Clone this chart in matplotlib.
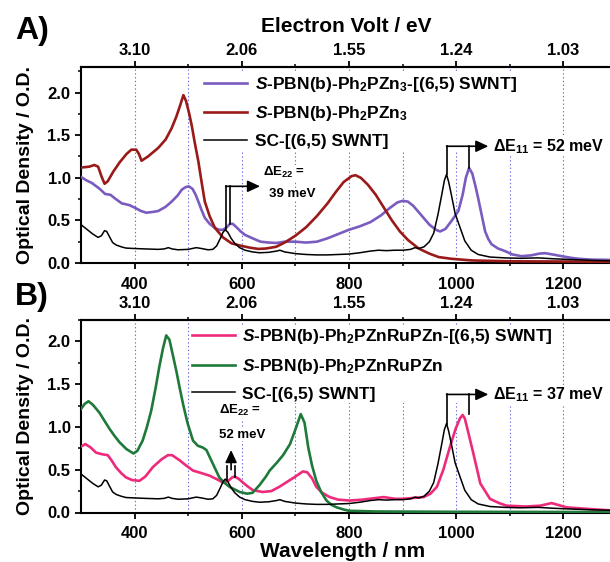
import matplotlib
matplotlib.use('Agg')
import matplotlib.pyplot as plt
from matplotlib.ticker import FixedLocator, MultipleLocator

plt.rcParams['font.family'] = ['Liberation Sans', 'DejaVu Sans']
plt.rcParams['font.weight'] = 'bold'
plt.rcParams['mathtext.fontset'] = 'custom'
plt.rcParams['mathtext.rm'] = 'Liberation Sans:bold'
plt.rcParams['mathtext.it'] = 'Liberation Sans:bold:italic'
plt.rcParams['mathtext.bf'] = 'Liberation Sans:bold'
plt.rcParams['axes.linewidth'] = 1.5

# ---------------- data ----------------
# Panel A: S-PBN(b)-Ph2PZn3-[(6,5) SWNT]
a_purple_wl = [300, 310, 320, 335, 345, 355, 365, 376, 390, 400, 412, 422, 435, 444, 458, 469, 480, 488,
               495, 501, 508, 514, 519, 525, 531, 540, 550, 558, 565, 572, 578, 583, 590, 598, 606, 620,
               635, 650, 665, 680, 700, 720, 740, 760, 780, 800, 820, 840, 860, 875, 890, 900, 910, 920,
               935, 950, 962, 970, 980, 992, 1004, 1012, 1018, 1024, 1030, 1036, 1041, 1048, 1054, 1060,
               1066, 1078, 1091, 1105, 1122, 1140, 1155, 1166, 1180, 1197, 1215, 1228, 1250, 1300]
a_purple_od = [1.01, 0.97, 0.94, 0.87, 0.81, 0.80, 0.75, 0.70, 0.68, 0.65, 0.61, 0.59, 0.60, 0.61, 0.66,
               0.72, 0.79, 0.86, 0.89, 0.90, 0.87, 0.80, 0.72, 0.62, 0.53, 0.46, 0.41, 0.39, 0.39, 0.42,
               0.46, 0.46, 0.42, 0.37, 0.33, 0.29, 0.25, 0.24, 0.235, 0.25, 0.25, 0.24, 0.25, 0.29, 0.34,
               0.39, 0.43, 0.48, 0.56, 0.64, 0.71, 0.73, 0.72, 0.67, 0.56, 0.45, 0.39, 0.37, 0.40, 0.50,
               0.61, 0.80, 1.00, 1.115, 1.05, 0.90, 0.76, 0.55, 0.37, 0.28, 0.22, 0.17, 0.14, 0.10, 0.08,
               0.09, 0.11, 0.115, 0.10, 0.08, 0.06, 0.05, 0.04, 0.035]

# Panel A: S-PBN(b)-Ph2PZn3
a_red_wl = [300, 315, 325, 332, 338, 344, 350, 360, 372, 385, 394, 403, 408, 413, 425, 444, 458, 469, 478,
            485, 491, 496, 502, 507, 512, 519, 525, 531, 540, 550, 565, 581, 600, 615, 631, 645, 664, 680,
            700, 720, 740, 760, 775, 790, 805, 812, 822, 835, 850, 865, 880, 895, 910, 930, 950, 967, 990,
            1029, 1100, 1300]
a_red_od = [1.12, 1.13, 1.15, 1.13, 1.02, 0.93, 0.96, 1.07, 1.18, 1.28, 1.33, 1.33, 1.28, 1.20, 1.25, 1.35,
            1.45, 1.58, 1.72, 1.85, 1.97, 1.90, 1.75, 1.60, 1.42, 1.19, 0.95, 0.72, 0.55, 0.41, 0.30, 0.23,
            0.20, 0.18, 0.165, 0.17, 0.19, 0.24, 0.32, 0.42, 0.55, 0.70, 0.83, 0.95, 1.02, 1.03, 1.00, 0.92,
            0.80, 0.65, 0.50, 0.37, 0.27, 0.17, 0.11, 0.07, 0.05, 0.03, 0.02, 0.015]

# SC-[(6,5) SWNT] (both panels)
swnt_wl = [300, 308, 314, 322, 332, 338, 344, 348, 353, 359, 366, 375, 384, 400, 420, 444, 455, 463, 470,
           481, 500, 515, 525, 537, 546, 553, 560, 565, 569, 574, 580, 587, 596, 606, 620, 633, 650, 665,
           671, 680, 700, 720, 739, 760, 780, 800, 820, 840, 855, 870, 885, 901, 915, 923, 930, 940, 950,
           958, 966, 973, 978, 982, 986, 991, 998, 1007, 1016, 1028, 1041, 1063, 1091, 1120, 1153, 1180,
           1216, 1260, 1300]
swnt_od = [0.45, 0.41, 0.38, 0.34, 0.30, 0.32, 0.38, 0.37, 0.31, 0.24, 0.21, 0.19, 0.175, 0.17, 0.165,
           0.16, 0.165, 0.18, 0.165, 0.155, 0.16, 0.18, 0.17, 0.155, 0.16, 0.20, 0.29, 0.36, 0.39, 0.36,
           0.29, 0.23, 0.18, 0.15, 0.13, 0.12, 0.125, 0.14, 0.15, 0.13, 0.11, 0.10, 0.095, 0.095, 0.10,
           0.105, 0.12, 0.14, 0.15, 0.145, 0.15, 0.15, 0.16, 0.18, 0.17, 0.19, 0.25, 0.35, 0.57, 0.80,
           0.97, 1.04, 0.95, 0.80, 0.58, 0.42, 0.26, 0.15, 0.10, 0.07, 0.06, 0.055, 0.06, 0.05, 0.04,
           0.03, 0.025]

# Panel B: S-PBN(b)-Ph2PZnRuPZn-[(6,5) SWNT]
b_pink_wl = [300, 308, 318, 328, 340, 350, 358, 365, 375, 384, 395, 409, 420, 434, 450, 462, 470, 484, 496,
             509, 525, 540, 553, 565, 575, 582, 587, 595, 602, 612, 621, 639, 655, 670, 685, 700, 714, 722,
             731, 739, 750, 764, 780, 801, 825, 851, 865, 886, 901, 920, 939, 952, 964, 976, 988, 999, 1007,
             1012, 1016, 1022, 1032, 1045, 1063, 1080, 1094, 1130, 1157, 1178, 1206, 1250, 1300]
b_pink_od = [0.77, 0.80, 0.76, 0.70, 0.68, 0.67, 0.60, 0.53, 0.46, 0.41, 0.38, 0.37, 0.42, 0.53, 0.62, 0.67,
             0.67, 0.61, 0.55, 0.49, 0.46, 0.43, 0.39, 0.35, 0.37, 0.41, 0.42, 0.39, 0.35, 0.30, 0.26, 0.24,
             0.25, 0.30, 0.36, 0.42, 0.48, 0.47, 0.40, 0.30, 0.23, 0.18, 0.15, 0.14, 0.15, 0.17, 0.18, 0.16,
             0.16, 0.17, 0.18, 0.22, 0.30, 0.50, 0.76, 0.98, 1.10, 1.14, 1.10, 0.95, 0.69, 0.34, 0.16, 0.11,
             0.08, 0.07, 0.08, 0.11, 0.06, 0.04, 0.02]

# Panel B: S-PBN(b)-Ph2PZnRuPZn
b_green_wl = [300, 307, 314, 322, 334, 343, 353, 362, 372, 385, 398, 405, 415, 423, 431, 439, 446, 453, 459,
              465, 471, 478, 484, 491, 499, 509, 518, 527, 534, 540, 549, 558, 567, 577, 596, 610, 620, 633,
              645, 652, 665, 677, 690, 700, 710, 717, 724, 731, 739, 748, 758, 767, 777, 790, 800, 850, 1000,
              1300]
b_green_od = [1.21, 1.27, 1.30, 1.26, 1.17, 1.08, 0.98, 0.90, 0.82, 0.74, 0.69, 0.72, 0.84, 1.00, 1.19, 1.45,
              1.70, 1.92, 2.07, 2.02, 1.85, 1.65, 1.46, 1.25, 1.04, 0.84, 0.78, 0.76, 0.73, 0.65, 0.53, 0.41,
              0.35, 0.30, 0.24, 0.22, 0.23, 0.32, 0.42, 0.49, 0.58, 0.67, 0.80, 0.97, 1.15, 1.05, 0.76, 0.55,
              0.37, 0.24, 0.14, 0.09, 0.06, 0.035, 0.02, 0.012, 0.008, 0.005]

# axis ticks / labels
wl_ticks = [400, 600, 800, 1000, 1200]
wl_minor = [500, 700, 900, 1100]
ev_labels = ['3.10', '2.06', '1.55', '1.24', '1.03']
grid_wl = [400, 500, 600, 700, 800, 900, 1000, 1100, 1200]
od_ticks = [0.0, 0.5, 1.0, 1.5, 2.0]

# legend labels
a_labels = [r'$\mathit{S}$-PBN(b)-Ph$_2$PZn$_3$-[(6,5) SWNT]',
            r'$\mathit{S}$-PBN(b)-Ph$_2$PZn$_3$',
            'SC-[(6,5) SWNT]']
b_labels = [r'$\mathit{S}$-PBN(b)-Ph$_2$PZnRuPZn-[(6,5) SWNT]',
            r'$\mathit{S}$-PBN(b)-Ph$_2$PZnRuPZn',
            'SC-[(6,5) SWNT]']

# annotation anchors (wavelength, O.D.)
a_e22_lines = [(570, 0.40), (578, 0.46)]
a_e22_top = 0.90
a_e22_tip = 634
a_e11_lines = [(982, 1.04), (1024, 1.115)]
a_e11_top = 1.37
a_e11_tip = 1060
b_e22_lines = [(572, 0.385), (588, 0.42)]
b_e22_top = 0.54
b_e22_arrow = (580, 0.50, 0.73)
b_e11_lines = [(982, 1.04), (1024, 1.15)]
b_e11_top = 1.38
b_e11_tip = 1060

C_PURPLE = '#7A5CC0'
C_RED = '#9A1A1A'
C_BLACK = '#000000'
C_PINK = '#EE2A7B'
C_GREEN = '#1F7A3A'
C_GRID = '#6A6AE0'

FIG_W, FIG_H = 610, 562
fig = plt.figure(figsize=(FIG_W / 100, FIG_H / 100), dpi=100)


def px_axes(left, top, right, bottom):
    return [left / FIG_W, 1 - bottom / FIG_H, (right - left) / FIG_W, (bottom - top) / FIG_H]


axA = fig.add_axes(px_axes(81, 67, 617, 263))
axB = fig.add_axes(px_axes(81, 320, 617, 512.5))


def style(ax, ytop):
    ax.set_xlim(300, 1300)
    ax.set_ylim(0, ytop)
    ax.vlines(grid_wl, 0, ytop, colors=C_GRID, linestyles=(0, (1.2, 2.2)), lw=0.8, zorder=0.5)
    ax.set_xticks(wl_ticks)
    ax.xaxis.set_minor_locator(FixedLocator(wl_minor))
    ax.set_yticks(od_ticks)
    ax.set_yticklabels([f'{v:.1f}' for v in od_ticks])
    ax.yaxis.set_minor_locator(MultipleLocator(0.25))
    ax.tick_params(which='major', direction='out', length=4.5, width=1.3, labelsize=12, pad=3)
    ax.tick_params(axis='x', which='major', pad=5.5)
    ax.tick_params(which='minor', direction='out', length=2.5, width=1.1)
    ax.tick_params(right=False, top=False, which='both')
    ax.spines['right'].set_visible(False)
    sec = ax.secondary_xaxis('top')
    sec.set_xticks(wl_ticks, labels=ev_labels)
    sec.xaxis.set_minor_locator(FixedLocator(wl_minor))
    sec.tick_params(which='major', direction='out', length=4.5, width=1.3, labelsize=12, pad=2)
    sec.tick_params(which='minor', direction='out', length=2.5, width=1.1)
    sec.spines['top'].set_linewidth(1.5)
    ax.set_ylabel('Optical Density / O.D.', fontsize=14, fontweight='bold')
    ax.yaxis.set_label_coords(-0.088, 0.5)


style(axA, 2.30)
style(axB, 2.25)

# ---- panel A curves ----
lA1, = axA.plot(a_purple_wl, a_purple_od, color=C_PURPLE, lw=1.9, zorder=3)
lA2, = axA.plot(a_red_wl, a_red_od, color=C_RED, lw=1.9, zorder=3)
lA3, = axA.plot(swnt_wl, swnt_od, color=C_BLACK, lw=1.1, zorder=4)

# ---- panel B curves ----
lB1, = axB.plot(b_pink_wl, b_pink_od, color=C_PINK, lw=1.9, zorder=3)
lB2, = axB.plot(b_green_wl, b_green_od, color=C_GREEN, lw=1.9, zorder=3)
lB3, = axB.plot(swnt_wl, swnt_od, color=C_BLACK, lw=1.1, zorder=4)


def make_legend(ax, handles, labels, anchor):
    leg = ax.legend(handles, labels, loc='upper left', bbox_to_anchor=anchor,
                    bbox_transform=ax.transData, frameon=True, facecolor='white',
                    edgecolor='none', framealpha=1, borderpad=0.1, borderaxespad=0,
                    handlelength=2.5, handletextpad=0.42, labelspacing=0.62,
                    prop={'size': 12.5, 'weight': 'bold'})
    leg.set_zorder(6)
    return leg


make_legend(axA, [lA1, lA2, lA3], a_labels, (526, 2.23))
make_legend(axB, [lB1, lB2, lB3], b_labels, (503, 2.19))

ARROW = dict(arrowstyle='-|>,head_length=0.75,head_width=0.35', color='k', lw=1.2,
             shrinkA=0, shrinkB=0)
WB = dict(facecolor='white', edgecolor='none', pad=0.3)


def bracket(ax, lines, top, tip, zorder=8):
    for x, y in lines:
        ax.plot([x, x], [y, top], color='k', lw=1.2, zorder=zorder)
    ax.annotate('', xy=(tip, top), xytext=(lines[0][0], top), arrowprops=ARROW, zorder=zorder)


# Panel A annotations
bracket(axA, a_e22_lines, a_e22_top, a_e22_tip)
axA.text(640, 1.06, r'ΔE$_{22}$ =', fontsize=9.5, fontweight='bold', va='center', ha='left',
         bbox=WB, zorder=7)
axA.text(650, 0.81, '39 meV', fontsize=9.5, fontweight='bold', va='center', ha='left',
         bbox=WB, zorder=7)
bracket(axA, a_e11_lines, a_e11_top, a_e11_tip)
axA.text(1069, a_e11_top, r'ΔE$_{11}$ = 52 meV', fontsize=11.5, fontweight='bold', va='center',
         ha='left', bbox=WB, zorder=7)

# Panel B annotations
for x, y in b_e22_lines:
    axB.plot([x, x], [y, b_e22_top], color='k', lw=1.2, zorder=8)
axB.annotate('', xy=(b_e22_arrow[0], b_e22_arrow[2]), xytext=(b_e22_arrow[0], b_e22_arrow[1]),
             arrowprops=ARROW, zorder=8)
axB.text(558, 1.19, r'ΔE$_{22}$ =', fontsize=9.5, fontweight='bold', va='center', ha='left',
         bbox=WB, zorder=7)
axB.text(558, 0.91, '52 meV', fontsize=9.5, fontweight='bold', va='center', ha='left',
         bbox=WB, zorder=7)
bracket(axB, b_e11_lines, b_e11_top, b_e11_tip)
axB.text(1069, b_e11_top, r'ΔE$_{11}$ = 37 meV', fontsize=11.5, fontweight='bold', va='center',
         ha='left', bbox=WB, zorder=7)

# Titles and panel letters
fig.text(15 / FIG_W, 1 - 39.5 / FIG_H, 'A)', fontsize=23, fontweight='bold', va='baseline', ha='left')
fig.text(15 / FIG_W, 1 - 305 / FIG_H, 'B)', fontsize=23, fontweight='bold', va='baseline', ha='left')
fig.text(346 / FIG_W, 1 - 31.7 / FIG_H, 'Electron Volt / eV', fontsize=15, fontweight='bold',
         va='baseline', ha='center')
fig.text(343 / FIG_W, 1 - 557.3 / FIG_H, 'Wavelength / nm', fontsize=15, fontweight='bold',
         va='baseline', ha='center')

fig.savefig('out.png', dpi=100)
